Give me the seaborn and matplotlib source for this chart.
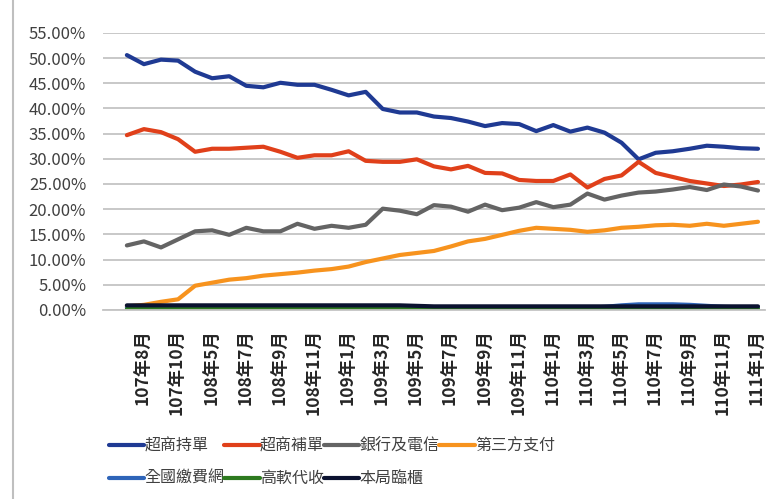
import numpy as np
import pandas as pd
import matplotlib
matplotlib.use('Agg')
import matplotlib.pyplot as plt
import seaborn as sns
from matplotlib.lines import Line2D
from matplotlib.ticker import PercentFormatter

# ------------------------------------------------------------
# data (percent of total)
# ------------------------------------------------------------
months = ['107年7月', '107年8月', '107年9月', '107年10月', '108年4月',
          '108年5月', '108年6月', '108年7月', '108年8月', '108年9月',
          '108年10月', '108年11月', '108年12月', '109年1月', '109年2月',
          '109年3月', '109年4月', '109年5月', '109年6月', '109年7月',
          '109年8月', '109年9月', '109年10月', '109年11月', '109年12月',
          '110年1月', '110年2月', '110年3月', '110年4月', '110年5月',
          '110年6月', '110年7月', '110年8月', '110年9月', '110年10月',
          '110年11月', '110年12月', '111年1月']

store_bill = [50.6, 48.8, 49.7, 49.5, 47.3, 46.0, 46.4, 44.5, 44.2, 45.1,
              44.7, 44.7, 43.7, 42.6, 43.3, 39.9, 39.2, 39.2, 38.4, 38.1,
              37.4, 36.5, 37.1, 36.9, 35.5, 36.7, 35.4, 36.2, 35.2, 33.2,
              29.9, 31.2, 31.5, 32.0, 32.6, 32.4, 32.1, 32.0]
store_reissue = [34.7, 35.9, 35.3, 33.9, 31.4, 32.0, 32.0, 32.2, 32.4, 31.4,
                 30.2, 30.7, 30.7, 31.5, 29.6, 29.4, 29.4, 29.9, 28.5, 27.9,
                 28.6, 27.2, 27.1, 25.8, 25.6, 25.6, 26.9, 24.3, 26.0, 26.7,
                 29.4, 27.2, 26.4, 25.6, 25.1, 24.6, 24.9, 25.4]
bank_telecom = [12.8, 13.6, 12.4, 14.0, 15.6, 15.8, 14.9, 16.3, 15.6, 15.6,
                17.1, 16.1, 16.7, 16.3, 16.9, 20.1, 19.7, 19.0, 20.8, 20.5,
                19.5, 20.9, 19.8, 20.3, 21.4, 20.4, 20.9, 23.1, 21.9, 22.7,
                23.3, 23.5, 23.9, 24.4, 23.8, 24.9, 24.5, 23.7]
third_party = [0.7, 1.0, 1.6, 2.1, 4.8, 5.4, 6.0, 6.3, 6.8, 7.1,
               7.4, 7.8, 8.1, 8.6, 9.5, 10.2, 10.9, 11.3, 11.7, 12.6,
               13.6, 14.1, 14.9, 15.7, 16.3, 16.1, 15.9, 15.5, 15.8, 16.3,
               16.5, 16.8, 16.9, 16.7, 17.1, 16.7, 17.1, 17.5]
national_net = [0.4, 0.4, 0.4, 0.4, 0.4, 0.4, 0.4, 0.4, 0.4, 0.4,
                0.4, 0.4, 0.4, 0.4, 0.4, 0.4, 0.4, 0.4, 0.4, 0.4,
                0.4, 0.4, 0.4, 0.4, 0.4, 0.4, 0.4, 0.4, 0.6, 0.9,
                1.1, 1.1, 1.1, 1.0, 0.8, 0.6, 0.5, 0.5]
gaoruan = [0.1, 0.1, 0.1, 0.1, 0.1, 0.1, 0.1, 0.1, 0.1, 0.1,
           0.1, 0.1, 0.1, 0.1, 0.1, 0.1, 0.1, 0.1, 0.1, 0.1,
           0.1, 0.1, 0.1, 0.1, 0.1, 0.1, 0.1, 0.1, 0.1, 0.1,
           0.1, 0.1, 0.1, 0.1, 0.1, 0.1, 0.1, 0.1]
counter = [0.9, 0.9, 0.9, 0.9, 0.9, 0.9, 0.9, 0.9, 0.9, 0.9,
           0.9, 0.9, 0.9, 0.9, 0.9, 0.9, 0.9, 0.8, 0.7, 0.7,
           0.7, 0.7, 0.7, 0.7, 0.7, 0.7, 0.7, 0.7, 0.7, 0.7,
           0.7, 0.7, 0.7, 0.7, 0.7, 0.7, 0.7, 0.7]

series_names = ['超商持單', '超商補單', '銀行及電信', '第三方支付',
                '全國繳費網', '高軟代收', '本局臨櫃']
series_values = [store_bill, store_reissue, bank_telecom, third_party,
                 national_net, gaoruan, counter]
colors = ['#1F3A93', '#E0401A', '#646464', '#F7931E',
          '#2E64B8', '#2D7A1F', '#0B1230']

# long-form table for seaborn
frames = []
for name, vals in zip(series_names, series_values):
    frames.append(pd.DataFrame({'idx': np.arange(len(months)),
                                'value': np.array(vals) / 100,
                                'series': name}))
df = pd.concat(frames, ignore_index=True)

sns.set_style('white')
plt.rcParams['font.family'] = ['Noto Sans CJK TC', 'DejaVu Sans']

fig, ax = plt.subplots(figsize=(7.79, 4.99), dpi=100)
fig.subplots_adjust(left=0.132, right=0.982, bottom=0.379, top=0.934)

sns.lineplot(data=df, x='idx', y='value', hue='series', hue_order=series_names,
             palette=dict(zip(series_names, colors)), linewidth=3, sort=False,
             legend=False, ax=ax, solid_joinstyle='round')

ax.set_xlim(-1.41, len(months) - 1 + 0.41)
ax.set_ylim(0, 0.55)
ax.set_yticks(np.arange(0, 0.5501, 0.05))
ax.yaxis.set_major_formatter(PercentFormatter(1.0, decimals=2))
ax.yaxis.grid(True, color='#C4C4C4', linewidth=1.3)
ax.set_axisbelow(True)

tick_pos = list(range(1, len(months), 2))
ax.set_xticks(tick_pos)
ax.set_xticklabels([months[i] for i in tick_pos], rotation=90,
                   fontsize=12.5, fontweight='bold', color='#262626')
ax.tick_params(axis='x', length=0, pad=14)
ax.tick_params(axis='y', length=0, pad=12, labelsize=12, labelcolor='#404040')
ax.set_xlabel('')
ax.set_ylabel('')

for s in ['top', 'left', 'right']:
    ax.spines[s].set_visible(False)
ax.spines['bottom'].set_color('#C4C4C4')
ax.spines['bottom'].set_linewidth(1.3)

# legend laid out row by row (matplotlib fills columns first)
handles = [Line2D([], [], color=c, linewidth=3) for c in colors]
order = [0, 4, 1, 5, 2, 6, 3]
fig.legend([handles[i] for i in order], [series_names[i] for i in order],
           ncol=4, loc='upper left', bbox_to_anchor=(101 / 779, 1 - 430 / 499),
           frameon=False, fontsize=11.5, handlelength=2.2, handletextpad=0.02,
           columnspacing=0.0, labelspacing=0.95, borderpad=0,
           labelcolor='#404040')

# chart border on the left edge
fig.add_artist(Line2D([13 / 779, 13 / 779], [0, 1], color='#BFBFBF', linewidth=1.5))

plt.savefig('out.png', dpi=100)
plt.close()
